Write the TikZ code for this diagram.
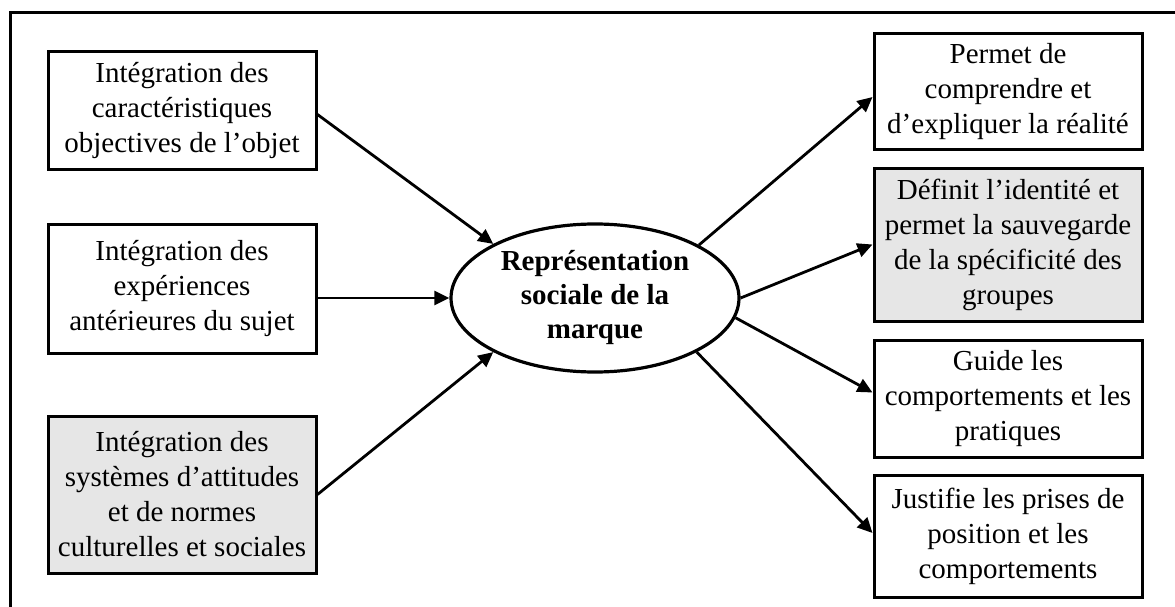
\documentclass[tikz,border=0pt]{standalone}
\usepackage{fontspec}
\setmainfont{Liberation Serif}
\usetikzlibrary{shapes.geometric,arrows.meta}
\definecolor{boxgrey}{HTML}{E6E6E6}
\begin{document}
\begin{tikzpicture}[x=1pt,y=-1pt,
  every node/.style={font=\fontsize{29}{35}\selectfont},
  box/.style={draw=black,line width=3pt,fill=white,align=center,minimum width=268pt,inner sep=0pt},
  greybox/.style={box,fill=boxgrey},
  centre/.style={draw=black,line width=3.2pt,ellipse,minimum width=288pt,minimum height=148pt,inner sep=0pt,align=center,font=\fontsize{29}{34}\selectfont\bfseries},
  link/.style={line width=2.8pt,-{Triangle[length=15pt,width=14pt]}},
  frame/.style={line width=3pt}]
\useasboundingbox (0,0) rectangle (1175,607);
\draw[frame] (10,607) -- (10,13) -- (1175,13);

\node[box,minimum height=117pt] (l1) at (182,110.5) {Intégration des\\caractéristiques\\objectives de l’objet};
\node[box,minimum height=129pt] (l2) at (182,288.5) {Intégration des\\expériences\\antérieures du sujet};
\node[greybox,minimum height=157pt] (l3) at (182,494.5) {Intégration des\\systèmes d’attitudes\\et de normes\\culturelles et sociales};

\node[centre] (e) at (595,298) {Représentation\\sociale de la\\marque};

\node[box,minimum height=116pt] (r1) at (1008,92) {Permet de\\comprendre et\\d’expliquer la réalité};
\node[greybox,minimum height=153pt] (r2) at (1008,244.5) {Définit l’identité et\\permet la sauvegarde\\de la spécificité des\\groupes};
\node[box,minimum height=117pt] (r3) at (1008,398.5) {Guide les\\comportements et les\\pratiques};
\node[box,minimum height=122pt] (r4) at (1008,536) {Justifie les prises de\\position et les\\comportements};

\draw[link] ([yshift=-4pt]l1.east) -- (e.152);
\draw[link] (l2.east |- e.west) -- (e.west);
\draw[link] (l3.east) -- (e.208);

\draw[link] (e.27) -- ([yshift=-5pt]r1.west);
\draw[link] (e.east) -- (r2.west);
\draw[link] (e.-8) -- ([yshift=6pt]r3.west);
\draw[link] (e.-28) -- ([yshift=3pt]r4.west);
\end{tikzpicture}
\end{document}
